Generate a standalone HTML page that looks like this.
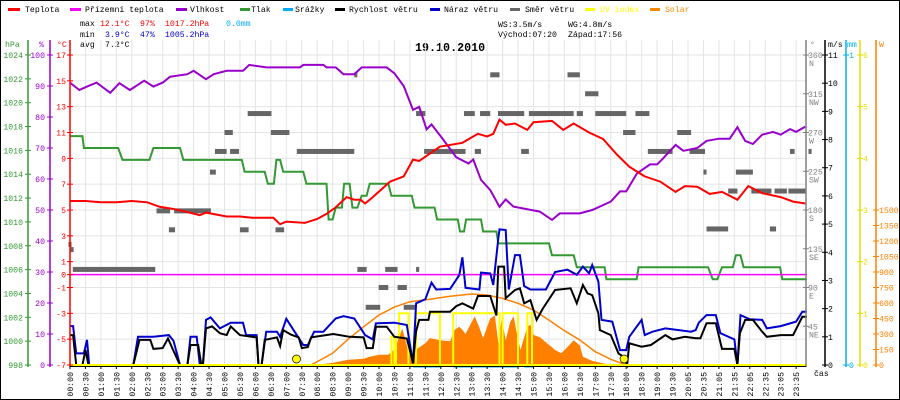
<!DOCTYPE html>
<html><head><meta charset="utf-8"><style>
html,body{margin:0;padding:0;background:#fff}
svg{display:block}
text{font-family:"Liberation Mono",monospace;font-size:8.2px}
</style></head><body>
<svg id="c" width="900" height="400" viewBox="0 0 900 400" xmlns="http://www.w3.org/2000/svg">
<rect x="0.5" y="0.5" width="899" height="399" fill="#fff" stroke="#000"/>
<g>
<rect x="8" y="8" width="12" height="3" fill="#f00"/><text x="25" y="12">Teplota</text>
<rect x="70" y="8" width="11" height="3" fill="#f0f"/><text x="85" y="12">Přízemní teplota</text>
<rect x="176" y="8" width="11" height="3" fill="#90c"/><text x="190" y="12">Vlhkost</text>
<rect x="240" y="8" width="10" height="3" fill="#393"/><text x="251" y="12">Tlak</text>
<rect x="283" y="8" width="10" height="3" fill="#0af"/><text x="295" y="12">Srážky</text>
<rect x="335" y="8" width="10" height="3" fill="#000"/><text x="349" y="12">Rychlost větru</text>
<rect x="430" y="8" width="10" height="3" fill="#00c"/><text x="444" y="12">Náraz větru</text>
<rect x="510" y="8" width="10" height="3" fill="#666"/><text x="525" y="12">Směr větru</text>
<rect x="585" y="8" width="10" height="3" fill="#ff0"/><text x="600" y="12" fill="#ff0">UV index</text>
<rect x="650" y="8" width="10" height="3" fill="#f80"/><text x="665" y="12" fill="#f80">Solar</text>
</g>
<g>
<text x="80" y="26">max</text><text x="100" y="26" fill="#f00">12.1°C</text><text x="140" y="26" fill="#f00">97%</text><text x="165" y="26" fill="#f00">1017.2hPa</text><text x="226" y="26" fill="#0af">0.0mm</text>
<text x="80" y="37">min</text><text x="105" y="37" fill="#00c">3.9°C</text><text x="140" y="37" fill="#00c">47%</text><text x="165" y="37" fill="#00c">1005.2hPa</text>
<text x="80" y="47">avg</text><text x="105" y="47">7.2°C</text>
<text x="498" y="27">WS:3.5m/s</text><text x="568" y="27">WG:4.8m/s</text>
<text x="498" y="37">Východ:07:20</text><text x="568" y="37">Západ:17:56</text>
</g>
<text x="415" y="51" style="font-size:11.7px;font-weight:bold">19.10.2010</text>
<g id="grid"></g><g id="marks"></g><g id="axes"></g>
</svg>
<script>
// ---- data ----
const tempH=[0,0.5,1,1.5,2,2.5,2.9,3.3,3.7,4.2,4.4,5.07,5.5,5.9,6.58,6.8,7.0,7.6,8.0,8.3,8.6,8.95,9.2,9.4,9.55,9.8,10.36,10.8,11.1,11.3,11.97,12.7,13.2,13.5,13.7,13.9,14.1,14.4,14.8,15.0,15.6,15.96,16.3,16.8,17.25,17.7,18.1,18.6,19.1,19.6,19.9,20.3,20.7,21.1,21.6,21.95,22.4,23.0,23.4,23.8];
const tempV=[5.7,5.7,5.6,5.6,5.7,5.6,5.25,5.1,4.9,4.6,4.8,4.5,4.5,4.4,4.4,3.9,4.1,4.0,4.3,4.7,5.2,6.0,5.8,5.8,5.5,6.0,7.2,7.6,8.9,8.8,9.9,10.2,10.9,10.7,10.9,12.0,11.6,11.7,11.2,11.8,11.9,11.2,11.7,11.0,10.5,9.3,8.35,7.6,7.2,6.4,6.85,6.8,6.25,6.4,5.8,6.85,6.3,6.0,5.65,5.5];
const appH=[0,23.85];
const appV=[0,0];
const humH=[0,0.3,0.55,0.86,1.3,1.6,1.94,2.4,2.7,3.0,3.24,3.8,4.0,4.4,4.65,5.07,5.6,5.8,6.36,7.44,7.55,8.2,8.3,8.6,8.85,9.2,9.44,10.25,10.5,10.8,11.1,11.3,11.54,11.7,12.05,12.5,12.9,13.05,13.3,13.6,13.9,14.1,14.35,15.2,15.6,15.85,16.5,16.9,17.5,17.8,18.0,18.35,18.77,19.0,19.2,19.6,19.85,20.3,20.6,21.0,21.35,21.6,21.85,22.1,22.4,22.75,23.0,23.3,23.5,23.8];
const humV=[91.1,88.7,89.8,91.1,87.8,90.9,88.7,91.7,89.8,91.1,93,93.8,94.9,92.2,93.8,94.9,94.9,96.8,96,96,96.8,96.8,96,96,93.8,93.8,96,96,94.1,90,82.3,83.3,76,77.6,73.1,67,65,66.3,59.7,56.5,51,53.4,51.1,49.5,46.8,48.9,48.9,50,52.7,56,56,61.8,64.7,64.7,66.7,71,69.1,70,72.3,73,73,76.7,72.3,71.3,74.3,75.2,74.3,76.1,75.2,76.9];
const presH=[0,0.4,0.45,1.56,1.7,2.57,2.7,3.56,3.67,5.56,5.65,6.3,6.4,6.6,6.68,6.8,6.9,7.55,7.65,8.3,8.37,8.5,8.6,8.8,8.87,9.05,9.14,9.3,9.44,9.6,9.7,10.3,10.4,11.06,11.15,11.8,11.88,12.55,12.62,12.75,12.82,13.3,13.37,13.8,13.86,15.5,15.6,16.3,16.4,17.3,17.36,18.34,18.4,20.65,20.8,20.95,21.1,21.45,21.55,21.7,21.8,22.98,23.05,23.85];
const presV=[1017.2,1017.2,1016.2,1016.2,1015.2,1015.2,1016.2,1016.2,1015.2,1015.2,1014.2,1014.2,1013.2,1013.2,1015.2,1015.2,1014.2,1014.2,1013.2,1013.2,1010.2,1010.2,1011.2,1011.2,1013.2,1013.2,1011.2,1011.2,1012.2,1012.2,1013.2,1013.2,1012.2,1012.2,1011.2,1011.2,1010.2,1010.2,1009.2,1009.2,1010.2,1010.2,1009.2,1009.2,1008.2,1008.2,1007.2,1007.2,1006.2,1006.2,1005.2,1005.2,1006.2,1006.2,1005.2,1005.2,1006.2,1006.2,1007.2,1007.2,1006.2,1006.2,1005.2,1005.2];
const windH=[0,0.1,0.2,0.4,0.5,0.6,2.05,2.25,2.6,2.7,3.0,3.17,3.35,3.56,3.8,3.9,4.15,4.25,4.3,4.4,4.6,4.85,5.07,5.2,5.5,6.04,6.1,6.2,6.3,6.7,6.8,6.9,7.15,7.4,7.5,7.7,7.8,8.52,9.05,9.5,9.6,9.8,9.9,10.25,10.5,10.9,11.0,11.1,11.2,11.3,11.6,11.65,12.3,12.5,12.7,13.05,13.2,13.6,13.8,13.86,14.05,14.1,14.4,14.56,14.7,14.9,15.1,15.3,15.7,16.2,16.4,16.6,16.75,16.9,17.1,17.15,17.5,17.75,17.9,18.03,18.1,18.5,18.8,19.27,19.5,19.9,20.25,20.4,20.6,20.9,21.1,21.5,21.6,21.68,21.85,22.1,22.4,22.55,23.0,23.4,23.7,23.85];
const windV=[1.06,1.06,0,0,0.53,0,0,0.89,0.89,0.57,0.6,0.94,0.5,0,0,0.71,0.71,0,0,1.3,1.37,1.13,1.06,1.37,1.06,0.98,0,0,0.89,0.98,0.67,1.24,1.08,0.98,0.6,0.64,0.98,1.1,1.0,0.98,0.6,0.6,1.36,1.36,1.0,0.94,0.53,0.06,1.2,1.6,1.6,1.89,1.89,2.09,2.19,2.0,2.45,2.45,1.76,3.49,3.49,2.37,2.66,2.72,2.19,2.3,1.6,2.0,2.66,2.72,2.19,2.84,2.54,2.48,1.83,1.24,1.06,0.41,0.3,0,0.77,0.65,0.71,1.06,0.91,1.0,0.95,0.95,1.48,1.48,0.57,0.57,0,1.13,1.6,1.6,1.18,1.0,1.06,1.06,1.71,1.71];
const gustH=[0,0.1,0.2,0.45,0.55,0.62,2.05,2.2,2.7,3.2,3.35,3.56,3.8,3.9,4.1,4.2,4.3,4.4,4.55,4.85,5.2,5.6,5.7,6.04,6.1,6.2,6.35,6.7,6.8,7.0,7.2,7.55,7.7,7.9,8.2,8.6,8.85,9.2,9.55,9.8,9.9,10.5,10.9,11.1,11.2,11.5,11.7,11.85,12.3,12.6,12.7,12.8,13.25,13.3,13.6,13.7,13.86,13.9,14.1,14.2,14.4,14.56,14.7,14.9,15.4,15.7,16.1,16.4,16.6,16.8,16.9,17.1,17.2,17.55,17.8,18.0,18.1,18.5,18.6,18.85,19.27,20.1,20.25,20.35,20.6,20.9,21.05,21.5,21.6,21.7,22.0,22.4,22.55,23.0,23.5,23.7,23.85];
const gustV=[1.38,1.38,0.41,0.41,0.89,0,0,1.0,1.0,1.06,0.86,0,0,1.0,1.0,0,0,1.6,1.69,1.3,1.5,1.5,1.06,1.06,0,0,1.18,1.18,1.0,1.64,1.3,0.71,0.71,1.18,1.18,1.65,1.73,1.65,1.06,0.91,1.48,1.5,1.42,0.06,2.19,2.33,2.92,2.68,2.7,3.19,3.82,2.74,2.68,3.28,3.25,2.84,4.49,4.81,4.79,2.68,3.9,3.9,2.8,2.68,2.68,3.3,3.38,3.2,3.49,3.25,3.55,2.96,1.6,1.54,0.53,0.53,1.0,1.6,1.06,1.18,1.3,1.18,1.24,1.5,1.77,1.77,1.13,0.91,0,1.77,1.62,1.6,1.3,1.38,1.54,1.89,1.89];
const dirStart=[-0.05,0.02,0.09,2.8,3.37,3.2,4.53,4.69,5.0,5.18,5.5,5.75,6.5,6.65,7.34,9.2,9.3,9.57,9.99,10.2,10.6,10.8,11.2,11.2,11.46,11.65,12.75,13.1,13.27,13.6,13.85,14.6,14.85,16.1,16.1,16.4,16.67,17.0,17.9,18.3,18.7,19.65,20.05,20.5,20.6,21.3,21.55,22.05,22.65,22.8,23.25,23.3,23.9];
const dirEnd=[0.05,0.1,2.76,3.24,4.56,3.4,4.72,5.07,5.27,5.47,5.78,6.52,7.1,6.93,9.2,9.3,9.6,10.04,10.3,10.6,10.9,11.2,11.3,11.5,11.97,12.8,13.1,13.3,13.6,13.9,14.7,14.85,16.1,16.5,16.3,16.6,17.1,18.0,18.3,18.75,19.5,20.1,20.55,20.6,21.3,21.6,22.1,22.7,22.85,23.2,23.8,23.45,24];
const dirDeg=[140,134,111,179,179,157,224,248,270,248,157,292,270,157,248,337,111,67,90,111,90,67,111,292,248,248,292,248,292,337,292,248,292,337,292,292,315,292,270,292,248,270,248,224,158,202,224,202,158,202,202,248,248];
const solarH=[7.9,8.5,9.0,9.5,9.7,10.0,10.3,10.5,10.65,10.75,10.85,10.95,11.1,11.2,11.5,11.65,11.97,12.3,12.45,12.6,12.7,12.8,12.97,13.1,13.25,13.37,13.6,13.75,13.86,13.97,14.1,14.25,14.36,14.47,14.58,14.8,14.9,15.0,15.2,15.4,15.7,15.9,16.15,16.3,16.5,16.6,16.9,17.35,17.7];
const solarW=[0,20,50,60,80,100,100,150,270,350,250,120,60,150,210,260,240,230,340,370,340,300,400,470,360,260,450,480,210,450,240,420,470,290,145,370,390,290,270,220,145,113,190,240,190,80,40,10,0];
const clearH=[7.8,8.5,9,9.5,10,10.5,11,11.65,12.3,13,13.5,14,14.5,15,15.5,16,16.5,17,17.5,18];
const clearW=[0,113,250,370,484,560,613,636,665,687,677,645,597,532,435,332,242,129,55,0];
const uvH=[0,10.4,10.5,10.55,10.65,10.95,11.2,11.97,12.4,13.9,14.0,14.5,14.8,14.95,23.85];
const uvV=[0,0.55,0,0.55,1,0,1,0,1,0,1,0,1,0,0];
const rainStart=[11.1,12.4,14.7];
const rainEnd=[12.0,14.5,15.0];
const sunEvents=[7.33,17.93];
const timeLabels=["00:00","00:30","01:00","01:30","02:00","02:30","03:00","03:30","04:00","04:30","05:00","05:30","06:00","06:30","07:00","07:30","08:00","08:30","09:00","09:30","10:00","10:30","11:00","11:30","12:00","12:30","13:00","13:30","14:00","14:30","15:00","15:30","16:00","16:30","17:00","17:30","18:00","18:30","19:00","19:30","20:05","20:35","21:05","21:35","22:05","22:35","23:05","23:35"];
const tempTicks=[17,15,13,11,9,7,5,3,1,0,-1,-3,-5,-7];
const humTicks=[0,10,20,30,40,50,60,70,80,90,100];
const presTicks=[998,1000,1002,1004,1006,1008,1010,1012,1014,1016,1018,1020,1022,1024];
const dirTicks=[45,90,135,180,225,270,315,360];
const dirNames=["NE","E","SE","S","SW","W","NW","N"];
const msTicks=[0,1,2,3,4,5,6,7,8,9,10,11];
const mmTicks=[0,1];
const uvTicks=[0,1,2,3,4,5,6];
const wTicks=[0,150,300,450,600,750,900,1050,1200,1350,1500];

// ---- scales ----
const X0=70,XR=806,YT=55,YB=365,SL=15.45;
const xs=h=>X0+h*2*SL;
const lin=(v,a,b)=>YB-(v-a)/(b-a)*(YB-YT);
const yT=v=>lin(v,-7,17), yHu=v=>lin(v,0,100), yP=v=>lin(v,998,1024), yD=v=>lin(v,0,360),
      yM=v=>lin(v,0,11), yMM=v=>lin(v,0,1), yU=v=>lin(v,0,6), yS=v=>lin(v,0,3000);
const NS="http://www.w3.org/2000/svg";
function mk(tag,attrs,parent){const e=document.createElementNS(NS,tag);for(const k in attrs)e.setAttribute(k,attrs[k]);parent.appendChild(e);return e;}
const G=document.getElementById('grid'),M=document.getElementById('marks'),A=document.getElementById('axes');
function pts(H,V,fy){return H.map((h,i)=>xs(h).toFixed(1)+','+fy(V[i]).toFixed(1)).join(' ');}

// grid
for(let i=1;i<48;i++){const l=mk('line',{x1:X0+i*SL,x2:X0+i*SL,y1:40,y2:YB,stroke:'#e4e4e4','stroke-width':1},G);

}
tempTicks.forEach(t=>{const l=mk('line',{x1:X0,x2:XR,y1:yT(t),y2:yT(t),stroke:'#e4e4e4','stroke-width':1},G);

});

// solar area
{const d='M'+xs(solarH[0])+','+YB+' L'+pts(solarH,solarW,yS)+' L'+xs(solarH[solarH.length-1])+','+YB+' Z';
const p=mk('path',{d:d,fill:'#ff8000',stroke:'none'},M);

}
{const p=mk('polyline',{points:pts(clearH,clearW,yS),fill:'none',stroke:'#ff8000','stroke-width':1.5},M);

}
// UV step
{let s='';uvH.forEach((h,i)=>{if(i>0)s+=xs(h).toFixed(1)+','+yU(uvV[i-1]).toFixed(1)+' ';s+=xs(h).toFixed(1)+','+yU(uvV[i]).toFixed(1)+' ';});
const p=mk('polyline',{points:s,fill:'none',stroke:'#ffff00','stroke-width':2},M);

}
// rain
rainStart.forEach((s,i)=>{const l=mk('line',{x1:xs(s),x2:xs(rainEnd[i]),y1:YB+1.5,y2:YB+1.5,stroke:'#00b0f0','stroke-width':2},M);

});
// wind direction bars
dirDeg.forEach((d,i)=>{const r=mk('rect',{x:xs(dirStart[i]),y:yD(d)-2.5,width:Math.max(3,xs(dirEnd[i])-xs(dirStart[i])),height:5,fill:'#666'},M);

});
function line(H,V,fy,col,name,w){const p=mk('polyline',{points:pts(H,V,fy),fill:'none',stroke:col,'stroke-width':w||2,'stroke-linejoin':'miter'},M);

}
line(presH,presV,yP,'#339933','pressure-line');
line(appH,appV,yT,'#ff00ff','apparent-temperature-line',1.5);
line(gustH,gustV,yM,'#0000cc','wind-gust-line');
line(windH,windV,yM,'#000','wind-speed-line');
line(humH,humV,yHu,'#9900cc','humidity-line');
line(tempH,tempV,yT,'#ff0000','temperature-line');
// baseline yellow
{const l=mk('line',{x1:X0,x2:XR,y1:YB,y2:YB,stroke:'#ffff00','stroke-width':2},M);

}
sunEvents.forEach(h=>{const c=mk('circle',{cx:xs(h),cy:359,r:4,fill:'#ffff00',stroke:'#000','stroke-width':0.7},M);

});

// axes
function axis(x,col,ticks,fy,labelX,anchor,name,fmt){
 const l=mk('line',{x1:x,x2:x,y1:40,y2:367,stroke:col,'stroke-width':1.5},A);
 
 
 ticks.forEach(t=>{mk('line',{x1:x-3,x2:x+3,y1:fy(t),y2:fy(t),stroke:col,'stroke-width':1},A);
  const tx=mk('text',{x:labelX,y:fy(t)+3,'text-anchor':anchor,fill:col},A);tx.textContent=fmt?fmt(t):t;
  
  });
}
axis(28,'#339933',presTicks,yP,23,'end','pressure-axis');
axis(50,'#9900cc',humTicks,yHu,45,'end','humidity-axis');
axis(70,'#ff0000',tempTicks,yT,66,'end','temperature-axis');
axis(806,'#808080',dirTicks,yD,808,'start','wind-direction-axis');
dirTicks.forEach((d,i)=>{const t=mk('text',{x:809,y:yD(d)+11,fill:'#808080'},A);t.textContent=dirNames[i];

});
axis(825,'#000',msTicks,yM,828,'start','wind-speed-axis');
axis(846,'#00b0f0',mmTicks,yMM,849,'start','rain-axis');
axis(860,'#e0e000',uvTicks,yU,863,'start','uv-axis');
axis(876,'#ff8000',wTicks,yS,879,'start','solar-axis');
[['hPa',5,'#339933'],['%',39,'#9900cc'],['°C',57,'#ff0000'],['°',810,'#808080'],['m/s',828,'#000'],['mm',847,'#00b0f0'],['W',879,'#ff8000']].forEach(a=>{
 const t=mk('text',{x:a[1],y:47,fill:a[2]},A);t.textContent=a[0];
 
 });
// x axis
{const l=mk('line',{x1:X0,x2:XR,y1:366.5,y2:366.5,stroke:'#000','stroke-width':1},A);

}
timeLabels.forEach((s,i)=>{const x=X0+i*SL;mk('line',{x1:x,x2:x,y1:366,y2:369,stroke:'#000'},A);
 const t=mk('text',{transform:`translate(${x+3},372) rotate(-90)`,'text-anchor':'end'},A);t.textContent=s;
 
 });
{const t=mk('text',{x:814,y:376},A);t.textContent='čas';

}
</script>
</body></html>
